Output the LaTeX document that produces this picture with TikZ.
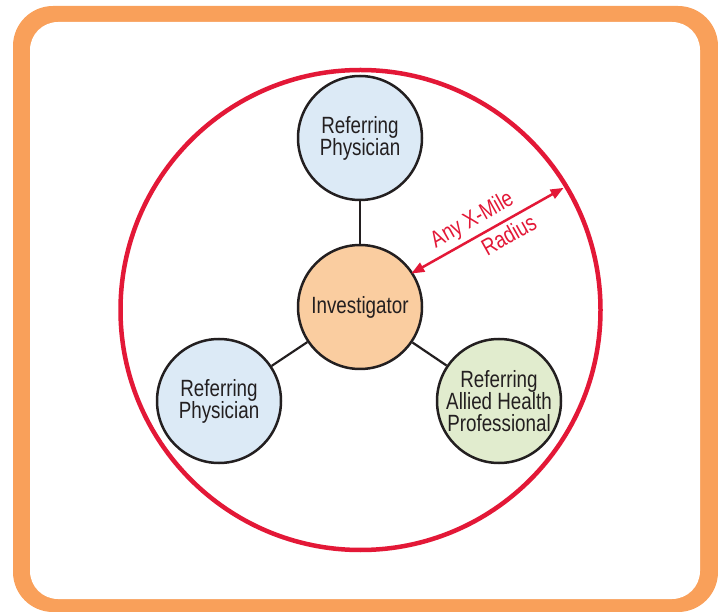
\documentclass[tikz,border=0pt]{standalone}
\usepackage{fontspec}
\setmainfont[FakeStretch=0.8]{Liberation Sans}
\usetikzlibrary{arrows.meta}
\definecolor{frameorange}{RGB}{249,160,90}
\definecolor{ringred}{RGB}{227,24,55}
\definecolor{bluefill}{RGB}{220,234,246}
\definecolor{peachfill}{RGB}{250,205,160}
\definecolor{greenfill}{RGB}{225,236,206}
\definecolor{inkgray}{RGB}{35,31,32}
\begin{document}
\begin{tikzpicture}[x=1pt,y=-1pt,
  party/.style={circle, draw=inkgray, line width=2.5pt, minimum size=124pt, inner sep=0pt,
    align=center, font=\fontsize{23.5}{22}\selectfont, text=inkgray},
  link/.style={draw=inkgray, line width=2.2pt},
  zonering/.style={circle, draw=ringred, line width=4.5pt, minimum size=480pt, inner sep=0pt, outer sep=0pt},
  radiusarrow/.style={draw=ringred, line width=2.5pt,
    {Triangle[length=13pt,width=10pt]}-{Triangle[length=13pt,width=10pt]}},
  radiuslabel/.style={text=ringred, font=\fontsize{23.5}{22}\selectfont, sloped, inner sep=4pt}
]
\useasboundingbox (0,0) rectangle (718,612);
\fill[frameorange, rounded corners=40pt] (13,6) rectangle (718,612);
\fill[white, rounded corners=28pt] (30,22) rectangle (700,599);

\node[zonering] (zone) at (360.5,310) {};

\node[party, fill=peachfill] (inv) at (360,307) {Investigator};
\node[party, fill=bluefill] (top) at (360,138) {Referring\\Physician};
\node[party, fill=bluefill] (left) at (219,401) {Referring\\Physician};
\node[party, fill=greenfill] (right) at (499,401) {Referring\\Allied Health\\Professional};

\draw[link] (top) -- (inv);
\draw[link] (left) -- (inv);
\draw[link] (right) -- (inv);

\draw[radiusarrow, shorten >=3pt, shorten <=-2pt] (inv.33) -- (zone.31)
  node[radiuslabel, pos=0.44, above] {Any X-Mile}
  node[radiuslabel, pos=0.58, below] {Radius};
\end{tikzpicture}
\end{document}
